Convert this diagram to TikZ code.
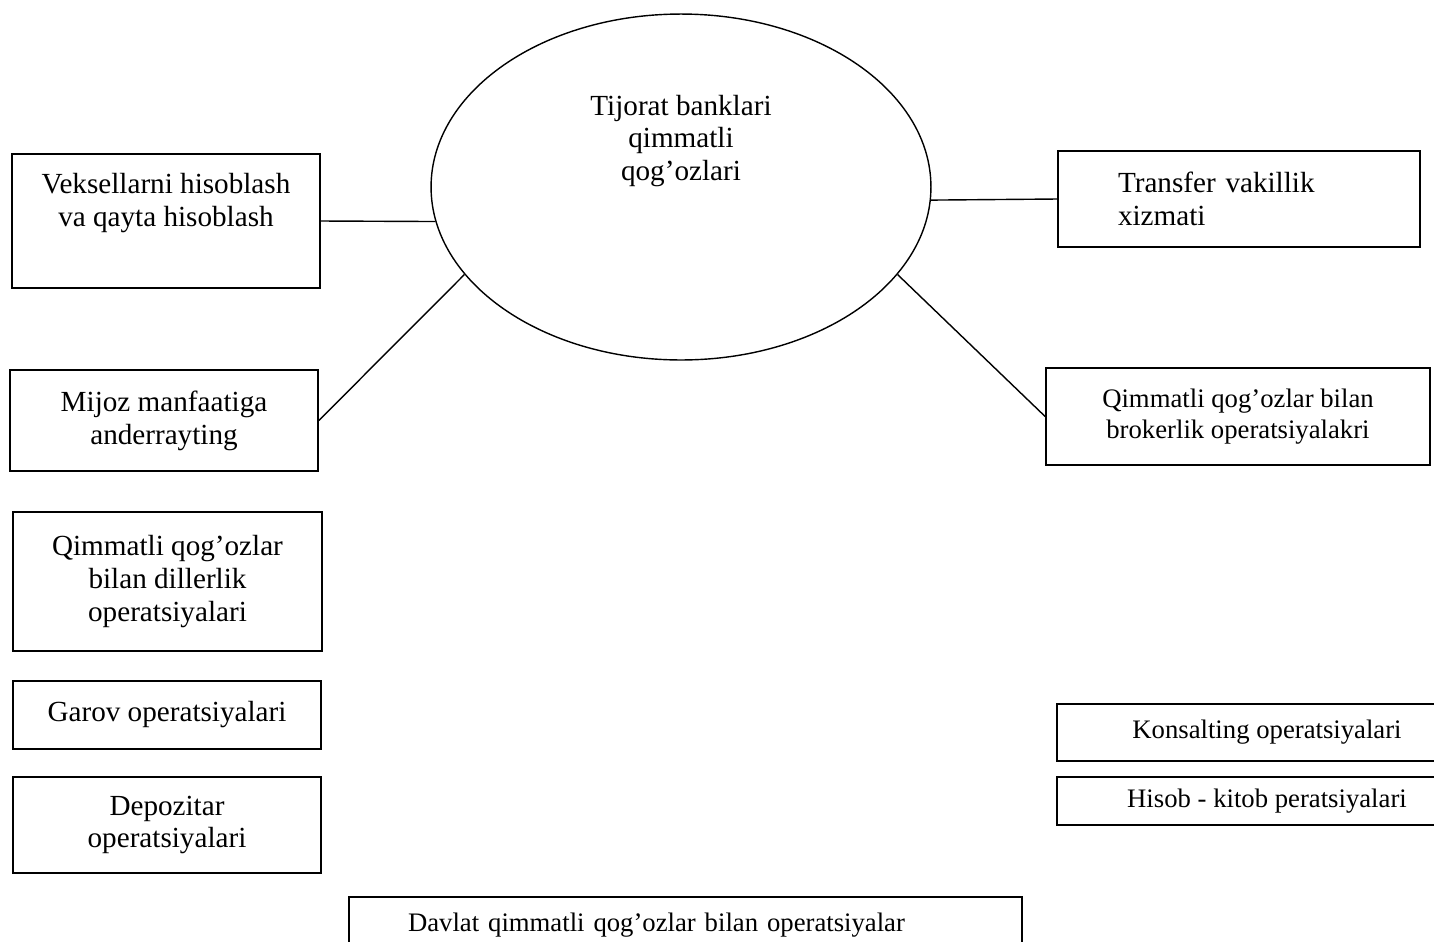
\documentclass[tikz,border=0pt]{standalone}
\usepackage{fontspec}
\setmainfont{Liberation Serif}
\usetikzlibrary{shapes.geometric}

\begin{document}
\begin{tikzpicture}[x=0.02cm, y=-0.02cm, font=\fontsize{16.6}{18.7}\selectfont,
	box/.style={draw, rectangle, line width=1pt, align=center, inner sep=0pt},
	boxsm/.style={box, font=\fontsize{15.2}{17.5}\selectfont},
	link/.style={-, line width=0.8pt}]
	\useasboundingbox (0,0) rectangle (1434,941);
	\clip (0,0) rectangle (1434,941);

	\node (bank) [ellipse, draw, line width=0.8pt, minimum width=10cm, minimum height=6.92cm, inner sep=0pt,
		label={[yshift=0.92cm, align=center]center:Tijorat banklari\\qimmatli\\qog’ozlari}] at (681,187) {};

	\node (veks) [box, minimum width=6.16cm, minimum height=2.68cm] at (166,221)
		{Veksellarni hisoblash\\va qayta hisoblash\\\strut};
	\node (mijoz) [box, minimum width=6.16cm, minimum height=2.02cm] at (164,420.5)
		{Mijoz manfaatiga\\anderrayting};
	\node (diller) [box, minimum width=6.18cm, minimum height=2.78cm] at (167.5,581.5)
		{Qimmatli qog’ozlar\\bilan dillerlik\\operatsiyalari};
	\node (garov) [box, minimum width=6.16cm, minimum height=1.36cm] at (167,715)
		{Garov operatsiyalari};
	\node (depoz) [box, minimum width=6.16cm, minimum height=1.92cm] at (167,825)
		{Depozitar\\operatsiyalari};

	\node (trans) [box, align=left, text width=4.84cm, inner xsep=1.2cm, minimum height=1.92cm] at (1239,199)
		{Transfer vakillik\\xizmati};
	\node (broker) [boxsm, minimum width=7.68cm, minimum height=1.94cm] at (1238,416.5)
		{Qimmatli qog’ozlar bilan\\brokerlik operatsiyalakri};
	\node (konsal) [boxsm, minimum width=8.4cm, minimum height=1.14cm] at (1267,732.5)
		{Konsalting operatsiyalari};
	\node (hisob) [boxsm, minimum width=8.4cm, minimum height=0.96cm] at (1267,801)
		{Hisob - kitob peratsiyalari};

	\node (davlat) [boxsm, align=left, text width=11.1cm, inner xsep=1.18cm, minimum height=1.12cm] at (685.5,925)
		{Davlat qimmatli qog’ozlar bilan operatsiyalar};

	\path [link] (veks.east) edge (bank.188);
	\path [link] (mijoz.east) edge (bank.202);
	\path [link] (bank.-3) edge (trans.west);
	\path [link] (bank.-22.6) edge (broker.west);
\end{tikzpicture}
\end{document}
